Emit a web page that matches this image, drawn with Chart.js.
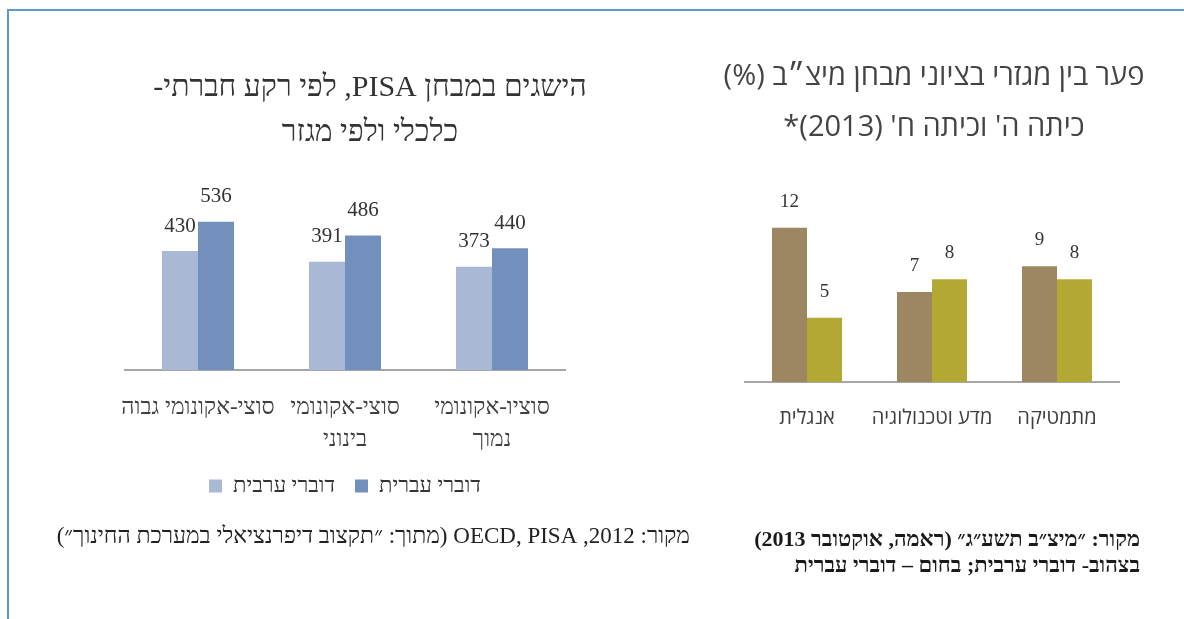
<!DOCTYPE html>
<html lang="he">
<head>
<meta charset="utf-8">
<script src="https://cdn.jsdelivr.net/npm/chart.js@4"></script>
<style>
  html, body { margin: 0; padding: 0; background: #fff; }
  body { width: 1184px; height: 619px; position: relative; overflow: hidden; }
  .frame { position: absolute; left: 7px; top: 9px; right: -4px; bottom: -4px;
           border-top: 2px solid #5b9bd5; border-left: 2px solid #5b9bd5; }
  canvas { position: absolute; top: 0; }
  #pisaChart { left: 0; }
  #meitzavChart { left: 640px; }
</style>
</head>
<body>
<div class="frame"></div>
<canvas id="pisaChart" width="700" height="619" dir="rtl"></canvas>
<canvas id="meitzavChart" width="544" height="619" dir="rtl"></canvas>
<script>
// PISA scores by socio-economic background and sector
const pisaGroups = [['סוצי-אקונומי גבוה'], ['סוצי-אקונומי', 'בינוני'], ['סוציו-אקונומי', 'נמוך']];
const pisaArabic = [430, 391, 373];
const pisaHebrew = [536, 486, 440];

// Meitzav score gaps (%) by subject
const subjects = ['אנגלית', 'מדע וטכנולוגיה', 'מתמטיקה'];
const gapHebrew = [12, 7, 9];
const gapArabic = [5, 8, 8];

const serif = "'Liberation Serif', 'DejaVu Serif', serif";
const sans = "'Open Sans', 'Liberation Sans', 'DejaVu Sans', sans-serif";

Chart.defaults.animation = false;
Chart.defaults.events = [];

// numbers above each bar
function makeBarValues(font, lift) {
  return {
    id: 'barValues',
    afterDatasetsDraw(chart) {
      const { ctx } = chart;
      ctx.save();
      ctx.font = font;
      ctx.fillStyle = '#333';
      ctx.textAlign = 'center';
      ctx.textBaseline = 'middle';
      chart.data.datasets.forEach((ds, i) => {
        chart.getDatasetMeta(i).data.forEach((bar, j) => {
          ctx.fillText(ds.data[j], bar.x, bar.y - lift);
        });
      });
      ctx.restore();
    }
  };
}

// source line(s) under the chart
function makeSourceNote(lines, x, y, font, color) {
  return {
    id: 'sourceNote',
    afterDraw(chart) {
      const { ctx } = chart;
      ctx.save();
      ctx.direction = 'rtl';
      ctx.font = font;
      ctx.fillStyle = color;
      ctx.textAlign = 'right';
      ctx.textBaseline = 'middle';
      lines.forEach((line, i) => ctx.fillText(line, x, y + i * 26));
      ctx.restore();
    }
  };
}

// empty axis used only to widen the title box
function spacer(position, width) {
  return {
    type: 'linear',
    position,
    display: true,
    grid: { display: false, drawTicks: false },
    border: { display: false },
    ticks: { display: false },
    afterFit(scale) { scale.width = width; }
  };
}

const flatTicks = { maxRotation: 0, minRotation: 0, autoSkip: false };

new Chart(document.getElementById('pisaChart'), {
  type: 'bar',
  data: {
    labels: pisaGroups,
    datasets: [
      { label: 'דוברי ערבית', data: pisaArabic, backgroundColor: '#a9b8d5' },
      { label: 'דוברי עברית', data: pisaHebrew, backgroundColor: '#7290bb' }
    ]
  },
  options: {
    responsive: false,
    categoryPercentage: 0.49,
    barPercentage: 1,
    layout: { padding: { left: 124.5, right: 84.5, top: 0, bottom: 112 } },
    scales: {
      x: {
        grid: { display: false, drawTicks: false },
        border: { display: true, color: '#a6a6a6', width: 2 },
        ticks: { ...flatTicks, padding: 22, color: '#404040', font: { family: serif, size: 23, lineHeight: 32 / 23 } },
        afterFit(scale) { scale.height = 85; }
      },
      y: {
        position: 'right',
        min: 0,
        max: 705,
        grid: { display: false, drawTicks: false },
        border: { display: false },
        ticks: { display: false },
        afterFit(scale) { scale.width = 50; }
      }
    },
    plugins: {
      title: {
        display: true,
        text: ['הישגים במבחן PISA, לפי רקע חברתי-', 'כלכלי ולפי מגזר'],
        color: '#333',
        font: { family: serif, size: 30, weight: 'normal', lineHeight: 1.5 },
        padding: { top: 65.5, bottom: 19.5 }
      },
      legend: {
        position: 'bottom',
        fullSize: false,
        labels: { boxWidth: 13, boxHeight: 13, padding: 20, color: '#333', font: { family: serif, size: 22 } }
      },
      tooltip: { enabled: false }
    }
  },
  plugins: [
    makeBarValues('21px ' + serif, 25),
    makeSourceNote(['מקור: 2012, OECD, PISA (מתוך: ״תקצוב דיפרנציאלי במערכת החינוך״)'],
      690, 537, '23px ' + serif, '#222')
  ]
});

new Chart(document.getElementById('meitzavChart'), {
  type: 'bar',
  data: {
    labels: subjects,
    datasets: [
      { label: 'דוברי עברית', data: gapHebrew, backgroundColor: '#9c8762' },
      { label: 'דוברי ערבית', data: gapArabic, backgroundColor: '#b4a835' }
    ]
  },
  options: {
    responsive: false,
    categoryPercentage: 0.56,
    barPercentage: 1,
    layout: { padding: { left: 64.5, right: 20.5, top: 0, bottom: 186 } },
    scales: {
      x: {
        grid: { display: false, drawTicks: false },
        border: { display: true, color: '#a6a6a6', width: 2 },
        ticks: { ...flatTicks, padding: 21, color: '#404040', font: { family: sans, size: 20, lineHeight: 30 / 20 } },
        afterFit(scale) { scale.height = 51; }
      },
      y: {
        position: 'right',
        min: 0,
        max: 16.1,
        grid: { display: false, drawTicks: false },
        border: { display: false },
        ticks: { display: false },
        afterFit(scale) { scale.width = 44; }
      },
      padLeft: spacer('left', 40)
    },
    plugins: {
      title: {
        display: true,
        text: ['פער בין מגזרי בציוני מבחן מיצ״ב (%)', "כיתה ה' וכיתה ח' (2013)*"],
        color: '#444',
        font: { family: sans, size: 29, weight: 'normal', lineHeight: 51 / 29 },
        padding: { top: 51.5, bottom: 21.5 }
      },
      legend: { display: false },
      tooltip: { enabled: false }
    }
  },
  plugins: [
    makeBarValues('19px ' + serif, 26),
    makeSourceNote(['מקור: ״מיצ״ב תשע״ג״ (ראמה, אוקטובר 2013)', 'בצהוב- דוברי ערבית; בחום – דוברי עברית'],
      500, 540, 'bold 22px ' + serif, '#1a1a1a')
  ]
});
</script>
</body>
</html>
